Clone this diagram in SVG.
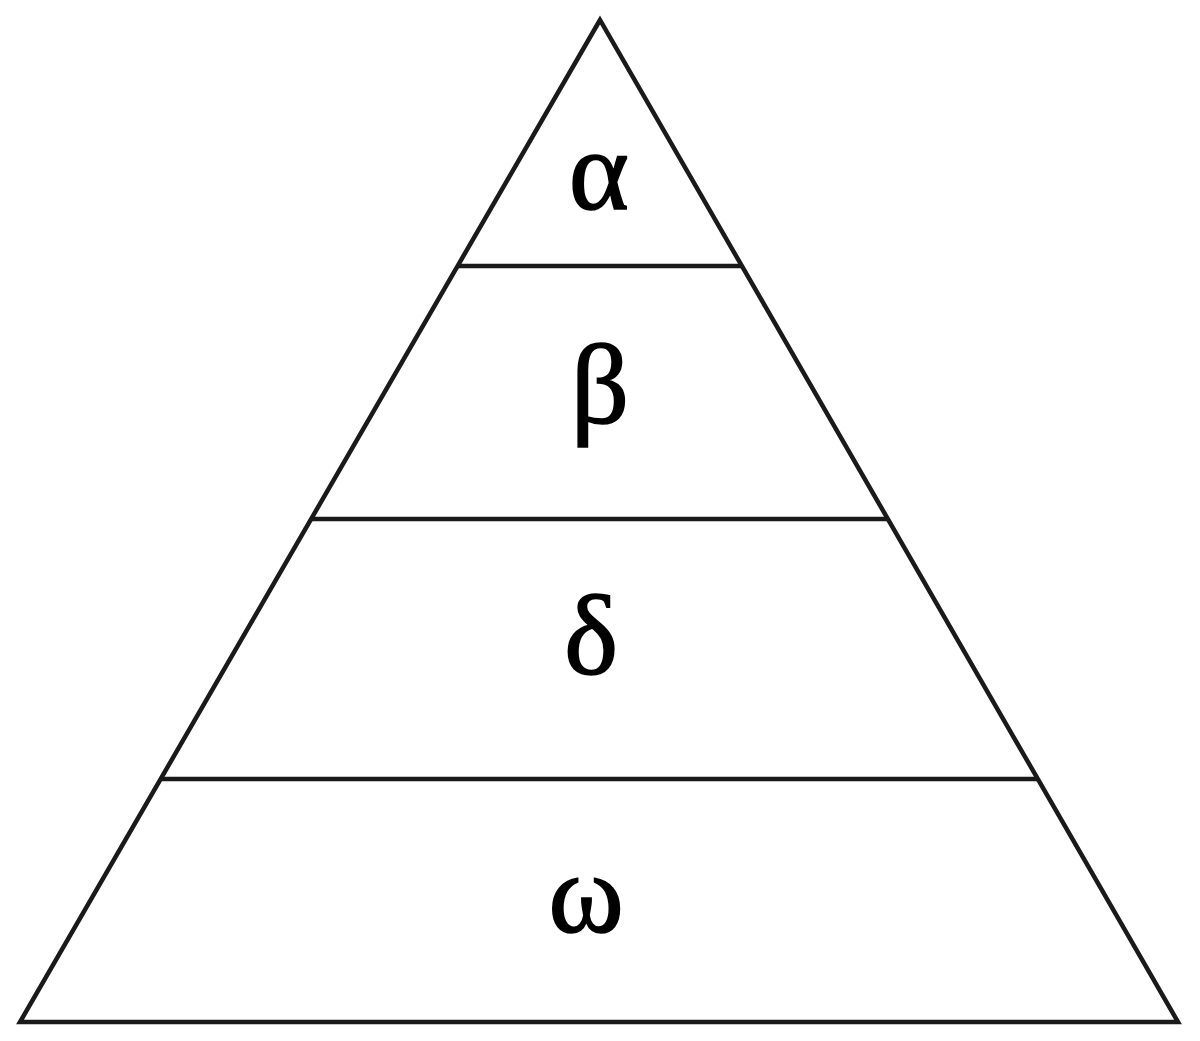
<svg xmlns="http://www.w3.org/2000/svg" width="1200" height="1041" viewBox="0 0 1200 1041">
<style>
.ln{stroke:#1a1a1a;stroke-width:4.5;fill:none;stroke-linejoin:miter}
.lb{font-family:"Liberation Serif","Times New Roman",serif;font-size:115px;fill:#000;stroke:#000;stroke-width:1.5;text-anchor:middle}
</style>
<rect width="1200" height="1041" fill="#fff"/>
<g id="pyramid">
<polygon class="ln" points="600,20 20,1022 1178,1022"/>
</g>
<g id="connectors">
<line class="ln" x1="457.6" y1="266" x2="741.8" y2="266"/>
<line class="ln" x1="311" y1="519" x2="888.5" y2="519"/>
<line class="ln" x1="161" y1="779" x2="1039" y2="779"/>
</g>
<g id="alpha"><text class="lb" x="599" y="209">α</text></g>
<g id="beta"><text class="lb" x="600" y="423">β</text></g>
<g id="delta"><text class="lb" x="591" y="674">δ</text></g>
<g id="omega"><text class="lb" x="586" y="932">ω</text></g>
</svg>
